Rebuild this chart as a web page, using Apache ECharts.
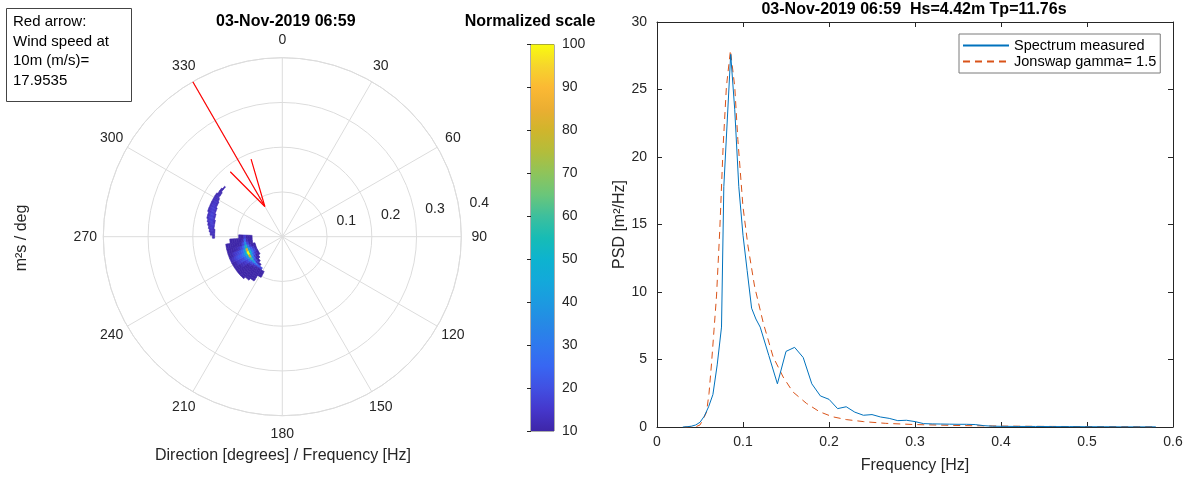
<!DOCTYPE html>
<html><head><meta charset="utf-8">
<script src="https://cdn.jsdelivr.net/npm/echarts@6/dist/echarts.min.js"></script>
<style>html,body{margin:0;padding:0;background:#fff}#c{width:1192px;height:481px}</style>
</head><body><div id="c"></div>
<script>
const FONT = '"Liberation Sans", Arial, Helvetica, sans-serif';

// ---- Directional spectrum (polar): radius = frequency [Hz], angle = direction [deg]
const swellFreqs = [0.065,0.070,0.075,0.080,0.085,0.090,0.095,0.100,0.105,0.110,0.115,0.120,0.125];
const swellDirs  = [210,215,220,225,230,235,240,245,250,255,260,265,270];
const swellValues = [
  [ 0, 0, 0, 0, 0,10,10, 12,10,10, 0, 0, 0],
  [ 0, 0, 0, 0,10,10,14, 18,15,10,10,10,10],
  [ 0, 0, 0,10,11,16,22, 28,23,15,10,10,10],
  [ 0, 0,11,14,20,29,40, 50,41,28,18,12,10],
  [ 0,18,22,28,40,58,80,100,82,55,35,24,16],
  [10,10,11,14,20,29,40, 50,41,28,18,12,10],
  [10,10,10,10,13,19,26, 32,26,18,11,10,10],
  [10,10,10,10,10,15,20, 25,21,14,10,10, 0],
  [ 0,10,10,10,10,13,18, 22,18,12,10,10, 0],
  [ 0,10,10,10,10,12,16, 20,16,11,10,10, 0],
  [ 0,10,10,10,10,10,14, 17,14,10,10,10, 0],
  [ 0, 0,10,10,10,10,11, 14,11,10,10, 0, 0],
  [ 0, 0, 0,10,10,10,10, 12,10,10,10, 0, 0]
];
const swellStep = {freq: 0.005, dir: 5};
const seaFreqs = [0.1525,0.155,0.1575,0.160,0.1625,0.165,0.1675,0.170,0.1725,0.175];
const seaDirs  = [270,272.5,275,277.5,280,282.5,285,287.5,290,292.5,295,297.5,300,302.5,305,307.5,310];
const seaValues = [
  [11,12,12, 0, 0, 0, 0, 0, 0, 0, 0, 0, 0, 0, 0, 0, 0],
  [12,13,13,13,13,12, 0, 0, 0, 0, 0, 0, 0, 0, 0, 0, 0],
  [ 0,13,14,15,15,14,13,12, 0, 0, 0, 0, 0, 0, 0, 0, 0],
  [ 0,12,14,16,16,16,15,14,13,12, 0, 0, 0, 0, 0, 0, 0],
  [ 0, 0,12,14,16,17,17,16,15,14,13,12, 0, 0, 0, 0, 0],
  [ 0, 0, 0,12,15,16,17,17,16,15,14,13,12, 0, 0, 0, 0],
  [ 0, 0, 0, 0,12,15,16,17,16,16,15,14,13,12,11, 0, 0],
  [ 0, 0, 0, 0, 0,13,15,15,15,15,15,14,13,13,12,11,11],
  [ 0, 0, 0, 0, 0, 0,12,13,13,14,14,13,13,12,11,11, 0],
  [ 0, 0, 0, 0, 0, 0, 0, 0,12,12,12,12,12,11, 0, 0, 0]
];
const seaStep = {freq: 0.0025, dir: 2.5};

// wind arrow: [radius, direction]
const windShaft = [[0.4, 330], [0.078, 330]];
const windHead  = [[0.186, 321.3], [0.078, 330], [0.187, 338.1]];
const windSpeed = '17.9535';

const angleTicks = {min: 0, max: 360, interval: 30};
const radiusTicks = {min: 0, max: 0.4, interval: 0.1};
const colorScale = {min: 10, max: 100, interval: 10};
const parula = ['#3e26a8','#4537cc','#4150e2','#3866f2','#2f78ee','#2689e5','#1c9ae0','#13a9da','#0db3cf',
                '#17bcb5','#3dbf9d','#6ac67a','#8ec45b','#b3bd3b','#d0b52c','#ebae32','#fbb934','#f6d52c','#f9fb0e'];

// ---- 1D spectrum
const specFreq = [0.030,0.035,0.040,0.045,0.050,0.055,0.060,0.065,0.070,0.075,0.0777,0.0857,0.0904,0.0951,0.100,0.1048,0.110,0.115,0.120,0.130,0.140,0.150,0.160,0.170,0.180,0.190,0.200,0.210,0.220,0.230,0.240,0.250,0.260,0.270,0.280,0.290,0.300,0.310,0.320,0.330,0.340,0.350,0.360,0.370,0.380,0.390,0.400,0.420,0.440,0.460,0.480,0.500,0.520,0.540,0.560,0.580];
const specPsd  = [0,0.02,0.06,0.15,0.35,0.8,1.5,2.4,4.6,7.4,17.8,27.6,23.5,17.8,14.2,11.6,8.8,8.0,7.4,5.3,3.2,5.6,5.9,5.15,3.2,2.3,2.05,1.36,1.5,1.1,0.87,0.92,0.74,0.64,0.47,0.5,0.4,0.25,0.23,0.22,0.21,0.2,0.2,0.18,0.1,0.06,0.05,0.04,0.04,0.03,0.03,0.02,0.02,0.01,0.01,0.01];
const jonFreq = [0.032,0.040,0.045,0.050,0.053,0.0576,0.0605,0.0634,0.0663,0.0692,0.073,0.0769,0.0807,0.0854,0.0904,0.094,0.100,0.1058,0.1135,0.1236,0.135,0.1467,0.158,0.1738,0.189,0.204,0.220,0.240,0.266,0.300,0.350,0.400,0.450,0.500,0.550,0.580];
const jonPsd  = [0,0,0.02,0.15,0.5,1.1,2.5,4.7,7.2,9.7,14.6,20.8,25.2,27.9,25.2,21.3,16.3,13.4,10.4,7.7,5.2,3.7,2.6,1.75,1.13,0.76,0.55,0.4,0.27,0.18,0.11,0.07,0.045,0.03,0.02,0.015];
const xTicks = {min: 0, max: 0.6, interval: 0.1};
const yTicks = {min: 0, max: 30, interval: 5};

const GRIDC = '#dcdcdc', AX = '#262626';
const POLAR_R = 179, LBL_FONT = 14, LBL_MARGIN = -6, LBL_RADIUS = 197;

function cells(freqs, dirs, vals) {
  const out = [];
  for (let i = 0; i < freqs.length; i++)
    for (let j = 0; j < dirs.length; j++)
      if (vals[i][j] > 0) out.push([freqs[i], dirs[j], vals[i][j]]);
  return out;
}
function cellRenderer(step) {
  return function (params, api) {
    const f = api.value(0), d = api.value(1);
    const cs = params.coordSys, cx = cs.cx, cy = cs.cy;
    const p0 = api.coord([f - step.freq / 2, d]);
    const p1 = api.coord([f + step.freq / 2, d]);
    const a0 = api.coord([f, d - step.dir / 2]);
    const a1 = api.coord([f, d + step.dir / 2]);
    const r0 = Math.hypot(p0[0] - cx, p0[1] - cy);
    const r1 = Math.hypot(p1[0] - cx, p1[1] - cy);
    let s = Math.atan2(a0[1] - cy, a0[0] - cx);
    let e = Math.atan2(a1[1] - cy, a1[0] - cx);
    if (e < s) e += 2 * Math.PI;
    const col = api.visual('color');
    return {type: 'sector', shape: {cx: cx, cy: cy, r0: r0, r: r1, startAngle: s, endAngle: e, clockwise: true},
            style: {fill: col, stroke: col, lineWidth: 0.6}};
  };
}
function renderColorbar(params, api) {
  const top = api.coord([0, api.value(2)]);
  const bot = api.coord([1, api.value(1)]);
  const stops = parula.map((c, i) => ({offset: 1 - i / (parula.length - 1), color: c})).reverse();
  return {type: 'rect', shape: {x: top[0], y: top[1], width: bot[0] - top[0], height: bot[1] - top[1]},
          style: {fill: {type: 'linear', x: 0, y: 0, x2: 0, y2: 1, colorStops: stops}}};
}
// place angle labels centred on a fixed radius (as in the reference)
function angleLabelRich() {
  const ctx = document.createElement('canvas').getContext('2d');
  ctx.font = LBL_FONT + 'px ' + FONT;
  const rich = {};
  for (let v = angleTicks.min; v < angleTicks.max; v += angleTicks.interval) {
    const w = ctx.measureText(String(v)).width, h = LBL_FONT;
    const rad = v * Math.PI / 180, ux = Math.sin(rad), uy = -Math.cos(rad);
    const a = POLAR_R + LBL_MARGIN;
    const px = a * ux, py = a * uy, dx = LBL_RADIUS * ux, dy = LBL_RADIUS * uy;
    let pl = 0, pr = 0, pt = 0, pb = 0;
    if (Math.abs(px) / POLAR_R >= 0.3) { if (px > 0) pl = dx - px - w / 2; else pr = px - dx - w / 2; }
    // text is centred vertically inside its padded box
    if (Math.abs(py) / POLAR_R >= 0.3) { if (py > 0) pt = 2 * (dy - py) - h; else pb = 2 * (py - dy) - h; }
    rich['a' + v] = {padding: [Math.max(0, pt), Math.max(0, pr), Math.max(0, pb), Math.max(0, pl)],
                     fontSize: LBL_FONT, lineHeight: h, color: AX, fontFamily: FONT};
  }
  return rich;
}

const chart = echarts.init(document.getElementById('c'), null, {renderer: 'canvas'});
chart.setOption({
  animation: false,
  textStyle: {fontFamily: FONT},
  polar: [
    {center: [282.3, 236.7], radius: POLAR_R},
    {center: [303, 235], radius: POLAR_R}
  ],
  angleAxis: [
    {polarIndex: 0, type: 'value', min: angleTicks.min, max: angleTicks.max, interval: angleTicks.interval,
     startAngle: 90, clockwise: true,
     axisLine: {lineStyle: {color: GRIDC, width: 1}}, axisTick: {show: false},
     splitLine: {show: true, lineStyle: {color: GRIDC, width: 1}},
     axisLabel: {margin: LBL_MARGIN, formatter: v => '{a' + v + '|' + v + '}', rich: angleLabelRich()}},
    {polarIndex: 1, type: 'value', min: 0, max: 360, startAngle: 7.7, clockwise: true,
     axisLine: {show: false}, axisTick: {show: false}, splitLine: {show: false}, axisLabel: {show: false}}
  ],
  radiusAxis: [
    {polarIndex: 0, type: 'value', min: radiusTicks.min, max: radiusTicks.max, interval: radiusTicks.interval,
     axisLine: {show: false}, axisTick: {show: false}, axisLabel: {show: false},
     splitLine: {show: true, lineStyle: {color: GRIDC, width: 1}}},
    {polarIndex: 1, type: 'value', min: radiusTicks.min, max: radiusTicks.max, interval: radiusTicks.interval,
     axisLine: {show: false}, axisTick: {show: false}, splitLine: {show: false},
     axisLabel: {color: AX, fontSize: 14, margin: 8, align: 'center', verticalAlign: 'middle', fontFamily: FONT,
                 formatter: v => (v === 0 ? '' : String(+v.toFixed(1)))}}
  ],
  grid: [
    {left: 531, top: 44.5, width: 23, height: 386.5, show: true, borderColor: '#5a5a5a', borderWidth: 1, backgroundColor: 'transparent'},
    {left: 657, top: 22, width: 516, height: 405, show: false}
  ],
  xAxis: [
    {gridIndex: 0, type: 'value', min: 0, max: 1, show: false},
    {gridIndex: 1, type: 'value', min: xTicks.min, max: xTicks.max, interval: xTicks.interval, position: 'bottom',
     axisLine: {onZero: false, lineStyle: {color: AX, width: 1}},
     axisTick: {inside: true, length: 5, lineStyle: {color: AX}},
     axisLabel: {color: AX, fontSize: 14, margin: 8, fontFamily: FONT, formatter: v => String(+v.toFixed(1))},
     splitLine: {show: false},
     name: 'Frequency [Hz]', nameLocation: 'middle', nameGap: 31,
     nameTextStyle: {color: AX, fontSize: 16, fontFamily: FONT}},
    {gridIndex: 1, type: 'value', min: xTicks.min, max: xTicks.max, interval: xTicks.interval, position: 'top',
     axisLine: {onZero: false, lineStyle: {color: AX, width: 1}},
     axisTick: {inside: true, length: 5, lineStyle: {color: AX}}, axisLabel: {show: false}, splitLine: {show: false}}
  ],
  yAxis: [
    {gridIndex: 0, type: 'value', min: colorScale.min, max: colorScale.max, interval: colorScale.interval, position: 'right',
     axisLine: {show: false}, axisTick: {inside: true, length: 4, lineStyle: {color: AX}},
     axisLabel: {color: AX, fontSize: 14, margin: 8, fontFamily: FONT}, splitLine: {show: false}},
    {gridIndex: 1, type: 'value', min: yTicks.min, max: yTicks.max, interval: yTicks.interval, position: 'left',
     axisLine: {show: true, onZero: false, lineStyle: {color: AX, width: 1}},
     axisTick: {show: true, inside: true, length: 5, lineStyle: {color: AX}},
     axisLabel: {color: AX, fontSize: 14, margin: 10, fontFamily: FONT}, splitLine: {show: false},
     name: 'PSD [m²/Hz]', nameLocation: 'middle', nameGap: 28, nameRotate: 90,
     nameTextStyle: {color: AX, fontSize: 16, fontFamily: FONT}},
    {gridIndex: 1, type: 'value', min: yTicks.min, max: yTicks.max, interval: yTicks.interval, position: 'right',
     axisLine: {show: true, onZero: false, lineStyle: {color: AX, width: 1}},
     axisTick: {show: true, inside: true, length: 5, lineStyle: {color: AX}}, axisLabel: {show: false}, splitLine: {show: false}}
  ],
  visualMap: {type: 'continuous', show: false, min: colorScale.min, max: colorScale.max, dimension: 2,
              seriesIndex: [0, 1], inRange: {color: parula}},
  legend: {
    data: ['Spectrum measured', 'Jonswap gamma= 1.5'], orient: 'vertical', left: 959, top: 34,
    itemWidth: 46, itemHeight: 14, itemGap: 1, padding: [4, 4, 4, 3],
    itemStyle: {opacity: 0},
    borderColor: '#7a7a7a', borderWidth: 1, backgroundColor: '#fff',
    textStyle: {color: '#000', fontSize: 14.5, fontFamily: FONT}
  },
  series: [
    {type: 'custom', coordinateSystem: 'polar', polarIndex: 0, renderItem: cellRenderer(swellStep),
     encode: {radius: 0, angle: 1}, data: cells(swellFreqs, swellDirs, swellValues), z: 3},
    {type: 'custom', coordinateSystem: 'polar', polarIndex: 0, renderItem: cellRenderer(seaStep),
     encode: {radius: 0, angle: 1}, data: cells(seaFreqs, seaDirs, seaValues), z: 3},
    {type: 'line', coordinateSystem: 'polar', polarIndex: 0, data: windShaft, symbol: 'none',
     lineStyle: {color: '#ff0000', width: 1.2}, z: 5, silent: true},
    {type: 'line', coordinateSystem: 'polar', polarIndex: 0, data: windHead, symbol: 'none',
     lineStyle: {color: '#ff0000', width: 1.2}, z: 5, silent: true},
    {type: 'custom', xAxisIndex: 0, yAxisIndex: 0, renderItem: renderColorbar,
     data: [[0, colorScale.min, colorScale.max]], encode: {x: 0, y: [1, 2]}, silent: true, z: 1},
    {name: 'Spectrum measured', type: 'line', xAxisIndex: 1, yAxisIndex: 1, symbol: 'none',
     data: specFreq.map((f, i) => [f, specPsd[i]]),
     itemStyle: {color: '#0072bd'}, lineStyle: {color: '#0072bd', width: 1}, z: 4},
    {name: 'Jonswap gamma= 1.5', type: 'line', xAxisIndex: 1, yAxisIndex: 1, symbol: 'none',
     data: jonFreq.map((f, i) => [f, jonPsd[i]]),
     itemStyle: {color: '#d95319'}, lineStyle: {color: '#d95319', width: 1, type: [7, 5]}, z: 3}
  ],
  graphic: [
    {type: 'rect', shape: {x: 6.5, y: 8.5, width: 125, height: 93}, style: {fill: '#fff', stroke: '#444', lineWidth: 1}},
    {type: 'text', x: 13, y: 11.8, style: {text: 'Red arrow:\nWind speed at\n10m (m/s)=\n' + windSpeed,
      fontSize: 15, fontFamily: FONT, fill: '#000', lineHeight: 19.8, verticalAlign: 'top', align: 'left'}},
    {type: 'text', x: 285.8, y: 21.5, style: {text: '03-Nov-2019 06:59', fontSize: 16, fontWeight: 'bold',
      fontFamily: FONT, fill: '#000', align: 'center', verticalAlign: 'middle'}},
    {type: 'text', x: 530, y: 22, style: {text: 'Normalized scale', fontSize: 16, fontWeight: 'bold',
      fontFamily: FONT, fill: '#000', align: 'center', verticalAlign: 'middle'}},
    {type: 'text', x: 283, y: 456, style: {text: 'Direction [degrees] / Frequency [Hz]', fontSize: 16,
      fontFamily: FONT, fill: AX, align: 'center', verticalAlign: 'middle'}},
    {type: 'text', x: 22, y: 238, rotation: Math.PI / 2, style: {text: 'm²s / deg', fontSize: 16,
      fontFamily: FONT, fill: AX, align: 'center', verticalAlign: 'middle'}},
    {type: 'text', x: 914, y: 10, style: {text: '03-Nov-2019 06:59  Hs=4.42m Tp=11.76s', fontSize: 16, fontWeight: 'bold',
      fontFamily: FONT, fill: '#000', align: 'center', verticalAlign: 'middle'}}
  ]
});
</script>
</body></html>
